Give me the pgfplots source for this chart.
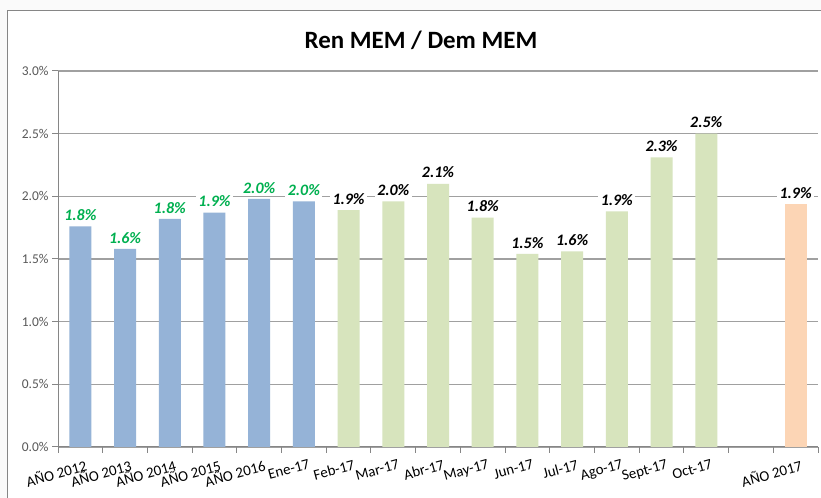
\documentclass[border=0pt]{standalone}
\usepackage{pgfplots}
\pgfplotsset{compat=1.18}
\usepackage{fontspec}
\setmainfont{Carlito}
\definecolor{barblue}{HTML}{95B3D7}
\definecolor{bargreen}{HTML}{D7E4BD}
\definecolor{barorange}{HTML}{FCD5B5}
\definecolor{lblgreen}{HTML}{00B050}
\definecolor{gridgray}{HTML}{A0A0A0}
\definecolor{axisgray}{HTML}{868686}
\definecolor{txtgray}{HTML}{595959}
\begin{document}
\begin{tikzpicture}[x=1bp,y=1bp]
\useasboundingbox (0,0) rectangle (821,498);
\fill[gray!4] (0,0) rectangle (821,498);
\begin{scope}
\clip (0,0) rectangle (821,498);
\filldraw[fill=white, draw=axisgray, line width=1bp] (7,487) rectangle (840,-20);
\end{scope}
\node[font=\bfseries\fontsize{25}{30}\selectfont] at (421,458) {Ren MEM / Dem MEM};
\begin{axis}[
  at={(58bp,51bp)}, anchor=south west,
  scale only axis, width=760bp, height=376bp,
  xmin=-0.5, xmax=16.5, ymin=0, ymax=3,
  axis lines*=left,
  axis line style={draw=axisgray, line width=1bp},
  ytick={0,0.5,...,3},
  ymajorgrids, grid style={draw=gridgray, line width=1.2bp},
  yticklabel={\pgfmathprintnumber[fixed,fixed zerofill,precision=1]{\tick}\%},
  yticklabel style={font=\fontsize{13.5}{15}\selectfont, text=txtgray},
  /pgf/number format/assume math mode=true,
  tick align=outside, major tick length=6bp,
  tick style={draw=axisgray, line width=1bp},
  xtick={-0.5,0.5,...,16.5}, xticklabels={},
  extra x ticks={0,1,...,16},
  extra x tick labels={AÑO 2012,AÑO 2013,AÑO 2014,AÑO 2015,AÑO 2016,Ene-17,Feb-17,Mar-17,Abr-17,May-17,Jun-17,Jul-17,Ago-17,Sept-17,Oct-17,{},AÑO 2017},
  extra x tick style={major tick length=0pt, xticklabel style={rotate=15, anchor=north east, yshift=-12bp, xshift=2bp, inner sep=1bp, font=\fontsize{15}{17}\selectfont, text=black}},
  nodes near coords={\pgfmathprintnumber[fixed,fixed zerofill,precision=1]{\pgfplotspointmeta}\%},
  every node near coord/.append style={font=\bfseries\itshape\fontsize{16}{18}\selectfont, fill=white, inner sep=2.5bp, anchor=south, yshift=3bp},
]
\addplot[ybar, bar width=22bp, bar shift=0pt, fill=barblue, draw=none,
  every node near coord/.append style={text=lblgreen}] coordinates {
  (0,1.76) (1,1.58) (2,1.82) (3,1.87) (4,1.98) (5,1.96)};
\addplot[ybar, bar width=22bp, bar shift=0pt, fill=bargreen, draw=none,
  every node near coord/.append style={text=black}] coordinates {
  (6,1.89) (7,1.96) (8,2.10) (9,1.83) (10,1.54) (11,1.56) (12,1.88) (13,2.31) (14,2.50)};
\addplot[ybar, bar width=22bp, bar shift=0pt, fill=barorange, draw=none,
  every node near coord/.append style={text=black}] coordinates {
  (16,1.94)};
\end{axis}
\end{tikzpicture}
\end{document}
